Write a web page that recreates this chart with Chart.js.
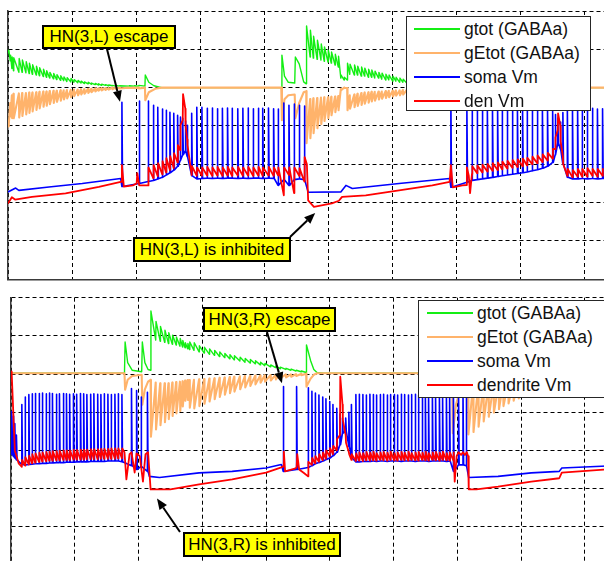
<!DOCTYPE html>
<html>
<head>
<meta charset="utf-8">
<title>HN(3) half-centre oscillator</title>
<script src="https://cdn.jsdelivr.net/npm/chart.js@4.4.1/dist/chart.umd.min.js"></script>
<style>
  html, body { margin: 0; padding: 0; background: #fff; overflow: hidden; width: 604px; height: 561px; }
  #stage { position: relative; width: 604px; height: 561px; overflow: hidden;
           font-family: "Liberation Sans", Arial, Helvetica, sans-serif; }
  canvas { position: absolute; left: 0; }
  #cL { top: 0; }
  #cR { top: 290px; }
  .legend { position: absolute; background: #fff; border: 1px solid #262626; box-sizing: border-box; }
  .legend .row { position: relative; height: 24px; }
  .legend .swatch { position: absolute; height: 0; top: 10.5px; border-top: 2.5px solid; }
  .legend .txt { position: absolute; top: 0; font-size: 17.5px; line-height: 24px; color: #111; white-space: nowrap; }
  .note { position: absolute; background: #ffff00; border: 2px solid #000; box-sizing: border-box;
          font-size: 17px; text-align: center; white-space: nowrap; color: #000; }
</style>
</head>
<body>
<div id="stage">
  <canvas id="cL" width="660" height="290"></canvas>
  <canvas id="cR" width="660" height="290"></canvas>
  <div class="legend" id="legL" style="left:406px;top:16px;width:185px;height:95px;"></div>
  <div class="legend" id="legR" style="left:418px;top:300px;width:192px;height:98px;"></div>
  <div class="note" style="left:42px;top:25px;width:134px;height:24px;line-height:20px;">HN(3,L) escape</div>
  <div class="note" style="left:133px;top:237px;width:158px;height:25px;line-height:21px;">HN(3,L) is inhibited</div>
  <div class="note" style="left:203px;top:307px;width:133px;height:25px;line-height:21px;">HN(3,R) escape</div>
  <div class="note" style="left:183px;top:532px;width:158px;height:25px;line-height:21px;">HN(3,R) is inhibited</div>
</div>
<script>
// ---------------------------------------------------------------------------
// HN(3,L) : soma spikes (time s, peak, trough) for its two bursts
// ---------------------------------------------------------------------------
const L_burstA_t = [1.78, 2.05, 2.19, 2.27, 2.34, 2.41, 2.47, 2.53, 2.59, 2.65,
  2.69, 2.73, 2.77, 2.80, 2.87, 2.95, 3.03, 3.11, 3.19, 3.27,
  3.35, 3.43, 3.50, 3.59, 3.67, 3.75, 3.83, 3.91, 3.98, 4.07,
  4.15, 4.22, 4.31, 4.39, 4.47, 4.55, 4.63];
const L_burstA_peak = [4.62, 4.65, 4.65, 4.54, 4.49, 4.44, 4.41, 4.36, 4.33, 4.28,
  4.23, 4.20, 4.13, 4.02, 4.33, 4.49, 4.49, 4.46, 4.47, 4.45,
  4.46, 4.47, 4.46, 4.45, 4.46, 4.47, 4.45, 4.46, 4.46, 4.47,
  4.45, 4.44, 4.60, 4.54, 4.57, 4.54, 4.52];
const L_burstA_trough = [2.42, 2.50, 2.55, 2.58, 2.62, 2.66, 2.72, 2.78, 2.85, 2.95,
  3.10, 3.25, 3.35, 3.20, 2.70, 2.62, 2.63, 2.64, 2.63, 2.64,
  2.63, 2.64, 2.64, 2.63, 2.64, 2.63, 2.64, 2.64, 2.63, 2.64,
  2.63, 2.45, 2.60, 2.45, 2.60, 2.62, 2.60];

const L_burstB_t = [6.92, 7.17, 7.25, 7.33, 7.41, 7.49, 7.57, 7.65, 7.72, 7.80,
  7.88, 7.96, 8.04, 8.11, 8.19, 8.27, 8.35, 8.43, 8.51, 8.55,
  8.59, 8.63, 8.67, 8.74, 8.82, 8.90, 8.97, 9.05, 9.13, 9.21, 9.29];
const L_burstB_peak = [4.65, 4.49, 4.46, 4.45, 4.46, 4.47, 4.45, 4.46, 4.46, 4.45,
  4.47, 4.46, 4.45, 4.46, 4.47, 4.45, 4.46, 4.44, 4.40, 4.30,
  4.20, 4.10, 4.35, 4.46, 4.45, 4.46, 4.47, 4.45, 4.46, 4.44, 4.45];
const L_burstB_trough = [2.40, 2.53, 2.58, 2.60, 2.62, 2.64, 2.66, 2.68, 2.70, 2.72,
  2.74, 2.76, 2.78, 2.80, 2.83, 2.86, 2.90, 2.95, 3.05, 3.25,
  3.55, 3.40, 3.00, 2.66, 2.62, 2.62, 2.63, 2.62, 2.63, 2.62, 2.63];

// HN(3,L) soma between bursts [t, v]
const L_soma_pre  = [[0, 2.28], [0.12, 2.38], [0.17, 2.32], [0.64, 2.41], [1.16, 2.50], [1.76, 2.63]];
const L_soma_mid  = [[4.69, 2.27], [5.20, 2.28], [5.28, 2.45], [5.38, 2.37], [6.11, 2.50], [6.90, 2.63]];
const L_soma_post = [[9.35, 2.63]];

// HN(3,L) dendrite: slow parts [t, v] and the value before / after each spike of a burst
const L_den_pre = [[0, 1.98], [0.06, 2.14], [0.11, 2.08], [0.375, 2.15], [0.9, 2.24], [1.42, 2.41],
  [1.76, 2.54], [1.77, 2.54], [1.78, 2.98], [1.81, 2.42], [1.95, 2.45], [2.01, 2.50], [2.02, 2.77],
  [2.05, 2.45], [2.12, 2.45]];
const L_den_A_before = [2.45, 2.64, 2.69, 2.74, 2.79, 2.85, 2.90, 3.05, 3.37, 4.15,
  4.45, 3.65, 2.72, 2.70, 2.70, 2.71, 2.70, 2.71, 2.70, 2.71,
  2.70, 2.71, 2.70, 2.71, 2.70, 2.71, 2.70, 2.71, 2.70, 2.71,
  2.19, 2.72, 2.25, 2.70, 2.55];
const L_den_A_after = [2.92, 2.98, 3.03, 3.08, 3.16, 3.21, 3.29, 3.50, 4.02, 4.83,
  4.00, 3.50, 2.95, 2.92, 2.92, 2.93, 2.92, 2.93, 2.92, 2.93,
  2.92, 2.93, 2.92, 2.93, 2.92, 2.93, 2.92, 2.93, 2.92, 2.92,
  2.92, 2.92, 2.92, 2.90, 3.19];
const L_den_mid = [[4.67, 3.00], [4.69, 2.06], [4.78, 1.89], [5.06, 1.98], [5.17, 2.05], [5.20, 2.11],
  [5.22, 2.15], [5.59, 2.19], [6.11, 2.32], [6.63, 2.45], [6.90, 2.54], [6.92, 2.98], [6.95, 2.40],
  [7.10, 2.45], [7.16, 2.46], [7.17, 2.92], [7.20, 2.70], [7.22, 2.25], [7.24, 2.60]];
const L_den_B_before = [2.75, 2.77, 2.79, 2.81, 2.83, 2.85, 2.87, 2.89, 2.91, 2.93,
  2.95, 2.97, 3.00, 3.03, 3.06, 3.10, 3.15, 3.40, 3.90, 4.00,
  3.20, 2.70, 2.66, 2.68, 2.68, 2.68, 2.70, 2.68, 2.70];
const L_den_B_after = [2.95, 2.97, 2.99, 3.01, 3.03, 3.05, 3.07, 3.09, 3.11, 3.13,
  3.15, 3.17, 3.20, 3.23, 3.26, 3.30, 3.40, 3.70, 4.33, 3.60,
  3.00, 2.88, 2.85, 2.88, 2.88, 2.90, 2.88, 2.88, 2.90];

// ---------------------------------------------------------------------------
// HN(3,R) : soma spikes for its two bursts
// ---------------------------------------------------------------------------
const R_burst1_t = [0.01, 0.035, 0.06, 0.085, 0.17, 0.22, 0.28, 0.33, 0.38, 0.44,
  0.49, 0.55, 0.60, 0.65, 0.71, 0.76, 0.82, 0.87, 0.92, 0.98,
  1.03, 1.09, 1.14, 1.19, 1.25, 1.30, 1.36, 1.41, 1.46, 1.52,
  1.57, 1.63, 1.68, 1.74, 1.89, 1.97, 2.04, 2.14];
const R_burst1_peak = [4.02, 3.90, 3.70, 3.40, 4.20, 4.40, 4.46, 4.48, 4.49, 4.49,
  4.50, 4.48, 4.50, 4.49, 4.47, 4.48, 4.49, 4.48, 4.47, 4.48,
  4.47, 4.49, 4.48, 4.46, 4.47, 4.48, 4.47, 4.46, 4.48, 4.47,
  4.46, 4.47, 4.48, 4.46, 4.62, 4.57, 4.40, 4.52];
const R_burst1_trough = [2.90, 2.85, 2.80, 2.75, 2.63, 2.62, 2.63, 2.64, 2.65, 2.65,
  2.66, 2.66, 2.67, 2.67, 2.68, 2.68, 2.68, 2.69, 2.69, 2.69,
  2.70, 2.70, 2.70, 2.70, 2.71, 2.71, 2.71, 2.71, 2.71, 2.72,
  2.72, 2.72, 2.72, 2.70, 2.60, 2.50, 2.58, 2.45];

const R_burst2_t = [4.27, 4.48, 4.66, 4.72, 4.77, 4.83, 4.89, 4.94, 5.00, 5.05,
  5.11, 5.16, 5.20, 5.25, 5.30, 5.34, 5.41, 5.46, 5.52, 5.57,
  5.63, 5.68, 5.73, 5.79, 5.84, 5.90, 5.95, 6.01, 6.06, 6.12,
  6.17, 6.23, 6.28, 6.34, 6.39, 6.45, 6.50, 6.55, 6.61, 6.66,
  6.72, 6.77, 6.83, 6.88, 6.94, 7.02, 7.09, 7.14];
const R_burst2_peak = [4.67, 4.67, 4.64, 4.55, 4.50, 4.45, 4.40, 4.35, 4.28, 4.20,
  4.10, 3.95, 3.85, 3.85, 4.00, 4.20, 4.46, 4.47, 4.46, 4.45,
  4.47, 4.46, 4.45, 4.46, 4.47, 4.45, 4.46, 4.46, 4.45, 4.47,
  4.46, 4.45, 4.46, 4.47, 4.45, 4.46, 4.46, 4.45, 4.47, 4.46,
  4.45, 4.46, 4.47, 4.46, 4.45, 4.62, 4.60, 4.50];
const R_burst2_trough = [2.45, 2.50, 2.55, 2.60, 2.65, 2.68, 2.72, 2.76, 2.80, 2.86,
  2.95, 3.15, 3.45, 3.50, 3.10, 2.80, 2.70, 2.70, 2.71, 2.71,
  2.71, 2.72, 2.71, 2.72, 2.72, 2.71, 2.72, 2.72, 2.72, 2.71,
  2.72, 2.72, 2.72, 2.71, 2.72, 2.72, 2.72, 2.71, 2.72, 2.72,
  2.72, 2.72, 2.71, 2.72, 2.45, 2.62, 2.62, 2.60];

const R_soma_pre   = [[0, 3.50]];
const R_soma_rest1 = [[2.17, 2.32], [2.33, 2.29], [2.95, 2.41], [3.47, 2.45], [4.00, 2.54], [4.24, 2.63]];
const R_soma_rest2 = [[7.18, 2.29], [7.64, 2.32], [8.16, 2.41], [8.60, 2.45], [8.64, 2.54], [9.35, 2.59]];

const R_den_pre = [[0, 5.07], [0.01, 5.05], [0.06, 3.00], [0.12, 2.66]];
const R_den_1_before = [2.57, 2.60, 2.63, 2.66, 2.68, 2.70, 2.71, 2.72, 2.73, 2.73,
  2.74, 2.74, 2.75, 2.75, 2.75, 2.76, 2.76, 2.76, 2.76, 2.77,
  2.77, 2.77, 2.77, 2.78, 2.78, 2.78, 2.78, 2.78, 2.79, 2.79];
const R_den_1_after = [2.75, 2.82, 2.86, 2.90, 2.92, 2.94, 2.95, 2.96, 2.97, 2.98,
  2.98, 2.99, 3.00, 3.00, 3.00, 3.01, 3.01, 3.02, 3.02, 3.02,
  3.03, 3.03, 3.03, 3.04, 3.04, 3.04, 3.05, 3.05, 3.05, 3.05];
const R_den_mid = [[1.78, 2.95], [1.81, 2.24], [1.86, 2.90], [1.89, 2.95], [1.94, 2.42], [1.97, 2.92],
  [2.02, 2.85], [2.07, 2.18], [2.11, 2.90], [2.15, 2.95], [2.19, 1.98], [2.50, 1.98], [2.95, 2.11],
  [3.47, 2.24], [4.00, 2.42], [4.23, 2.55], [4.27, 2.58], [4.28, 2.97], [4.30, 2.45], [4.45, 2.52],
  [4.48, 2.55], [4.49, 2.90], [4.52, 2.50], [4.60, 2.40]];
const R_den_2_before = [2.32, 2.62, 2.66, 2.70, 2.74, 2.78, 2.84, 2.90, 3.00, 3.40,
  4.20, 3.40, 2.95, 2.75,
  2.72, 2.73, 2.72, 2.74, 2.73, 2.74, 2.73, 2.75, 2.74, 2.73,
  2.75, 2.74, 2.73, 2.75, 2.74, 2.73, 2.75, 2.74, 2.73, 2.75,
  2.74, 2.73, 2.75, 2.74, 2.73, 2.75, 2.74, 2.73, 2.74];
const R_den_2_after = [2.70, 2.80, 2.85, 2.90, 2.95, 3.00, 3.06, 3.12, 3.30, 4.93,
  3.80, 3.20, 2.90, 2.90,
  2.92, 2.95, 2.93, 2.96, 2.94, 2.97, 2.93, 2.95, 2.96, 2.94,
  2.97, 2.93, 2.95, 2.96, 2.94, 2.97, 2.93, 2.95, 2.96, 2.94,
  2.97, 2.93, 2.95, 2.96, 2.94, 2.97, 2.93, 2.95, 2.95];
const R_den_post = [[6.96, 2.18], [6.99, 2.85], [7.02, 2.95], [7.06, 2.88], [7.09, 2.95], [7.12, 2.88],
  [7.15, 2.95], [7.17, 2.85], [7.18, 1.98], [7.30, 1.98], [7.64, 2.05], [8.16, 2.18], [8.60, 2.27],
  [8.64, 2.42], [9.35, 2.50]];

// ---------------------------------------------------------------------------
// Synaptic conductances: each cell is driven by the other cell's spikes.
// Value just before and just after every presynaptic spike.
// ---------------------------------------------------------------------------
// HN(3,L) gtot, driven by HN(3,R) bursts
const L_gtot_pre = [[0, 5.98]];
const L_gtot_1_before = [5.90, 5.70, 5.50, 5.44, 5.40, 5.40, 5.39, 5.37, 5.35, 5.33,
  5.31, 5.29, 5.27, 5.25, 5.23, 5.21, 5.19, 5.18, 5.16, 5.15,
  5.14, 5.13, 5.12, 5.11, 5.10, 5.09, 5.08, 5.07, 5.06, 5.06,
  5.05, 5.05, 5.04, 5.04, 5.04, 5.04, 5.04, 5.04];
const L_gtot_1_after = [5.98, 5.85, 5.80, 5.78, 5.76, 5.72, 5.68, 5.64, 5.60, 5.56,
  5.52, 5.48, 5.44, 5.40, 5.37, 5.34, 5.31, 5.28, 5.26, 5.24,
  5.21, 5.19, 5.17, 5.15, 5.14, 5.12, 5.11, 5.10, 5.09, 5.08,
  5.07, 5.06, 5.06, 5.05, 5.05, 5.05, 5.06, 5.33];
const L_gtot_mid = [[2.20, 5.14], [2.28, 5.05], [2.40, 5.00], [4.27, 5.00], [4.28, 5.85], [4.32, 5.30],
  [4.38, 5.14], [4.48, 5.12], [4.49, 5.80], [4.55, 5.62], [4.62, 5.15]];
const L_gtot_2_before = [5.10, 5.80, 5.77, 5.74, 5.72, 5.69, 5.67, 5.64, 5.59, 5.54,
  5.25, 5.20, 5.20, 5.35, 5.33, 5.33, 5.30, 5.30, 5.27, 5.27,
  5.25, 5.25, 5.22, 5.20, 5.20, 5.17, 5.17, 5.14, 5.14, 5.12,
  5.12, 5.11, 5.10, 5.10, 5.09, 5.08, 5.08, 5.07, 5.07, 5.06,
  5.06, 5.05, 5.05, 5.04, 5.04, 5.04];
const L_gtot_2_after = [6.61, 6.50, 6.34, 6.24, 6.14, 6.06, 5.98, 5.93, 5.87, 5.82,
  5.33, 5.27, 5.64, 5.61, 5.59, 5.56, 5.54, 5.51, 5.48, 5.46,
  5.43, 5.40, 5.38, 5.35, 5.33, 5.30, 5.27, 5.25, 5.22, 5.20,
  5.19, 5.18, 5.17, 5.16, 5.15, 5.14, 5.13, 5.12, 5.11, 5.10,
  5.09, 5.08, 5.08, 5.07, 5.07, 5.06];
const L_gtot_post = [[7.25, 5.02], [7.35, 5.00], [9.35, 5.00]];

// HN(3,L) gEtot
const L_gE_pre = [[0, 3.99]];
const L_gE_1_before = [4.10, 4.60, 4.80, 4.84, 4.85, 4.86, 4.86, 4.87, 4.87, 4.88,
  4.89, 4.90, 4.90, 4.91, 4.92, 4.92, 4.93, 4.93, 4.94, 4.94,
  4.95, 4.95, 4.96, 4.96, 4.97, 4.97, 4.98, 4.98, 4.99, 4.99,
  4.99, 5.00, 5.00, 5.00, 5.00, 5.00, 5.00, 5.00];
const L_gE_1_after = [4.05, 4.25, 4.20, 4.20, 4.22, 4.26, 4.30, 4.34, 4.38, 4.42,
  4.46, 4.50, 4.53, 4.57, 4.60, 4.63, 4.66, 4.69, 4.72, 4.75,
  4.78, 4.80, 4.82, 4.84, 4.86, 4.88, 4.90, 4.92, 4.93, 4.94,
  4.95, 4.96, 4.97, 4.98, 4.99, 4.99, 4.98, 4.67];
const L_gE_mid = [[2.20, 4.88], [2.30, 4.97], [2.40, 5.00], [4.27, 5.00], [4.28, 4.15], [4.32, 4.70],
  [4.38, 4.80], [4.48, 4.82], [4.49, 4.20], [4.55, 4.60], [4.62, 4.88]];
const L_gE_2_before = [4.91, 4.70, 4.72, 4.73, 4.74, 4.75, 4.75, 4.76, 4.77, 4.78,
  4.97, 5.00, 4.99, 4.80, 4.82, 4.84, 4.86, 4.87, 4.88, 4.89,
  4.89, 4.90, 4.90, 4.91, 4.92, 4.92, 4.93, 4.93, 4.94, 4.94,
  4.95, 4.95, 4.95, 4.96, 4.96, 4.96, 4.97, 4.97, 4.97, 4.98,
  4.98, 4.98, 4.98, 4.99, 4.99, 4.99];
const L_gE_2_after = [3.55, 3.68, 3.81, 3.94, 4.05, 4.13, 4.20, 4.28, 4.36, 4.41,
  4.93, 4.99, 4.41, 4.45, 4.49, 4.52, 4.55, 4.58, 4.61, 4.64,
  4.66, 4.69, 4.71, 4.73, 4.75, 4.77, 4.79, 4.80, 4.82, 4.83,
  4.85, 4.86, 4.87, 4.88, 4.89, 4.90, 4.91, 4.92, 4.93, 4.93,
  4.94, 4.95, 4.95, 4.96, 4.96, 4.97];
const L_gE_post = [[7.25, 5.00], [9.35, 5.00]];

// HN(3,R) gtot, driven by HN(3,L) bursts
const R_gtot_pre = [[0, 5.02], [1.78, 5.02], [1.79, 5.84], [1.83, 5.30], [1.90, 5.10], [2.05, 5.06],
  [2.06, 5.84], [2.10, 5.30], [2.15, 5.12]];
const R_gtot_A_before = [5.10, 5.89, 5.86, 5.83, 5.80, 5.78, 5.76, 5.73, 5.71, 5.69,
  5.66, 5.64, 5.62, 5.58, 5.55, 5.52, 5.49, 5.46, 5.43, 5.40,
  5.37, 5.34, 5.31, 5.29, 5.27, 5.24, 5.22, 5.19, 5.17, 5.14,
  5.12, 5.10, 5.08, 5.06, 5.04];
const R_gtot_A_after = [6.65, 6.38, 6.25, 6.15, 6.08, 6.02, 5.97, 5.93, 5.88, 5.82,
  5.80, 5.84, 5.82, 5.74, 5.70, 5.66, 5.62, 5.58, 5.54, 5.51,
  5.48, 5.44, 5.41, 5.38, 5.35, 5.31, 5.28, 5.24, 5.21, 5.18,
  5.15, 5.13, 5.10, 5.08, 5.76];
const R_gtot_mid = [[4.70, 5.35], [4.75, 5.12], [4.80, 5.04], [4.90, 5.02], [6.92, 5.02], [6.93, 6.40],
  [6.98, 5.70], [7.05, 5.30], [7.16, 5.10]];
const R_gtot_B_before = [5.10, 5.90, 5.87, 5.84, 5.81, 5.78, 5.75, 5.72, 5.69, 5.66,
  5.63, 5.60, 5.57, 5.54, 5.51, 5.48, 5.46, 5.44, 5.42, 5.40,
  5.38, 5.36, 5.36, 5.35, 5.34, 5.33, 5.32, 5.31, 5.30, 5.29];
const R_gtot_B_after = [6.60, 6.40, 6.28, 6.18, 6.10, 6.03, 5.97, 5.92, 5.87, 5.83,
  5.79, 5.75, 5.71, 5.67, 5.64, 5.61, 5.58, 5.55, 5.50, 5.44,
  5.42, 5.48, 5.50, 5.48, 5.46, 5.44, 5.42, 5.40, 5.38, 5.37];

// HN(3,R) gEtot
const R_gE_pre = [[0, 5.02], [1.78, 5.02], [1.79, 4.59], [1.83, 4.85], [1.90, 4.95], [2.05, 4.98],
  [2.06, 4.20], [2.10, 4.60], [2.15, 4.80]];
const R_gE_A_before = [4.85, 4.78, 4.76, 4.76, 4.76, 4.78, 4.79, 4.80, 4.81, 4.83,
  4.84, 4.84, 4.85, 4.86, 4.87, 4.88, 4.89, 4.90, 4.91, 4.92,
  4.93, 4.94, 4.95, 4.95, 4.96, 4.96, 4.97, 4.97, 4.98, 4.98,
  4.99, 4.99, 5.00, 5.00, 5.01];
const R_gE_A_after = [3.36, 3.55, 3.66, 3.74, 3.82, 3.90, 3.97, 4.03, 4.15, 4.30,
  4.32, 4.12, 4.10, 4.16, 4.22, 4.28, 4.34, 4.40, 4.46, 4.50,
  4.54, 4.60, 4.65, 4.69, 4.73, 4.77, 4.80, 4.83, 4.86, 4.89,
  4.91, 4.93, 4.95, 4.97, 4.67];
const R_gE_mid = [[4.70, 4.88], [4.75, 4.98], [4.80, 5.02], [6.92, 5.02], [6.93, 3.45], [6.98, 4.20],
  [7.05, 4.60], [7.16, 4.80]];
const R_gE_B_before = [4.80, 4.75, 4.72, 4.72, 4.73, 4.74, 4.75, 4.77, 4.78, 4.80,
  4.81, 4.83, 4.84, 4.85, 4.86, 4.87, 4.88, 4.89, 4.90, 4.92,
  4.94, 4.94, 4.92, 4.92, 4.93, 4.93, 4.94, 4.94, 4.95, 4.95];
const R_gE_B_after = [3.42, 3.48, 3.62, 3.76, 3.88, 3.99, 4.08, 4.16, 4.23, 4.30,
  4.36, 4.41, 4.46, 4.50, 4.54, 4.58, 4.61, 4.64, 4.75, 4.85,
  4.88, 4.70, 4.66, 4.69, 4.72, 4.74, 4.76, 4.78, 4.80, 4.82];

// ---------------------------------------------------------------------------
// trace builders
// ---------------------------------------------------------------------------
const SPIKE_W = 0.01;   // time taken by one spike / conductance step (s)

function same(name, a, b, c) {
  if (a.length !== b.length || (c && a.length !== c.length))
    throw new Error('length mismatch in ' + name + ': ' + a.length + '/' + b.length + (c ? '/' + c.length : ''));
}
function line(pairs) { return pairs.map(([x, y]) => ({ x, y })); }
function spikes(name, t, peak, trough) {
  same(name, t, peak, trough);
  const out = [];
  t.forEach((ti, i) => {
    out.push({ x: ti, y: trough[i] }, { x: ti, y: peak[i] }, { x: ti + SPIKE_W, y: trough[i] });
  });
  return out;
}
function steps(name, t, before, after) {
  same(name, t, before, after);
  const out = [];
  t.forEach((ti, i) => {
    out.push({ x: ti, y: before[i] }, { x: ti + SPIKE_W * 0.5, y: after[i] });
  });
  return out;
}

const L_soma = [...line(L_soma_pre), ...spikes('LA', L_burstA_t, L_burstA_peak, L_burstA_trough),
  ...line(L_soma_mid), ...spikes('LB', L_burstB_t, L_burstB_peak, L_burstB_trough), ...line(L_soma_post)];
const L_den = [...line(L_den_pre), ...steps('LdA', L_burstA_t.slice(2), L_den_A_before, L_den_A_after),
  ...line(L_den_mid), ...steps('LdB', L_burstB_t.slice(2), L_den_B_before, L_den_B_after)];
const L_gtot = [...line(L_gtot_pre), ...steps('Lg1', R_burst1_t, L_gtot_1_before, L_gtot_1_after),
  ...line(L_gtot_mid), ...steps('Lg2', R_burst2_t.slice(2), L_gtot_2_before, L_gtot_2_after), ...line(L_gtot_post)];
const L_gE = [...line(L_gE_pre), ...steps('Le1', R_burst1_t, L_gE_1_before, L_gE_1_after),
  ...line(L_gE_mid), ...steps('Le2', R_burst2_t.slice(2), L_gE_2_before, L_gE_2_after), ...line(L_gE_post)];

const R_soma = [...line(R_soma_pre), ...spikes('R1', R_burst1_t, R_burst1_peak, R_burst1_trough),
  ...line(R_soma_rest1), ...spikes('R2', R_burst2_t, R_burst2_peak, R_burst2_trough), ...line(R_soma_rest2)];
const R_den = [...line(R_den_pre), ...steps('Rd1', R_burst1_t.slice(4, 34), R_den_1_before, R_den_1_after),
  ...line(R_den_mid), ...steps('Rd2', R_burst2_t.slice(2, 45), R_den_2_before, R_den_2_after), ...line(R_den_post)];
const R_gtot = [...line(R_gtot_pre), ...steps('RgA', L_burstA_t.slice(2), R_gtot_A_before, R_gtot_A_after),
  ...line(R_gtot_mid), ...steps('RgB', L_burstB_t.slice(1), R_gtot_B_before, R_gtot_B_after)];
const R_gE = [...line(R_gE_pre), ...steps('ReA', L_burstA_t.slice(2), R_gE_A_before, R_gE_A_after),
  ...line(R_gE_mid), ...steps('ReB', L_burstB_t.slice(1), R_gE_B_before, R_gE_B_after)];

// ---------------------------------------------------------------------------
// chart setup
// ---------------------------------------------------------------------------
const COLORS = { gtot: '#14ee14', gE: '#ffb36b', soma: '#0000ff', den: '#ff0000' };

function datasets(gtot, gE, soma, den, denLabel) {
  const base = { borderWidth: 1.8, pointRadius: 0, fill: false, tension: 0,
                 borderJoinStyle: 'round', borderCapStyle: 'butt' };
  return [
    { ...base, label: 'gtot (GABAa)',  data: gtot, borderColor: COLORS.gtot, order: 3, borderWidth: 1.4 },
    { ...base, label: 'gEtot (GABAa)', data: gE,   borderColor: COLORS.gE,   order: 2, borderWidth: 2.1 },
    { ...base, label: 'soma Vm',       data: soma, borderColor: COLORS.soma, order: 1, borderWidth: 1.6 },
    { ...base, label: denLabel,        data: den,  borderColor: COLORS.den,  order: 0 }
  ];
}

function axis(max) {
  return {
    type: 'linear', min: 0, max: max,
    ticks: { display: false, stepSize: 1 },
    grid: { color: '#000', lineWidth: 1, drawTicks: false },
    border: { display: true, color: '#3a3a3a', width: 1.5, dash: [4, 3] }
  };
}

// arrows pointing from a label box (page px) to a spot on the traces (data units)
const arrowSpecs = {
  cL: { top: 0, arrows: [ { from: [107, 49], to: [1.75, 4.63] },
                          { from: [290, 237], to: [4.80, 1.73] } ] },
  cR: { top: 290, arrows: [ { from: [267, 332], to: [4.25, 4.76] },
                            { from: [180, 532], to: [2.29, 1.74] } ] }
};
const arrowPlugin = {
  id: 'noteArrows',
  afterDraw(chart) {
    const spec = arrowSpecs[chart.canvas.id];
    if (!spec) return;
    const { ctx, scales: { x, y } } = chart;
    ctx.save();
    ctx.strokeStyle = '#000';
    ctx.fillStyle = '#000';
    ctx.lineWidth = 2;
    spec.arrows.forEach(a => {
      const x1 = a.from[0], y1 = a.from[1] - spec.top;
      const x2 = x.getPixelForValue(a.to[0]), y2 = y.getPixelForValue(a.to[1]);
      const ang = Math.atan2(y2 - y1, x2 - x1);
      const L = 11, Hw = 4.5;
      const bx = x2 - L * Math.cos(ang), by = y2 - L * Math.sin(ang);
      ctx.beginPath(); ctx.moveTo(x1, y1); ctx.lineTo(bx, by); ctx.stroke();
      ctx.beginPath();
      ctx.moveTo(x2, y2);
      ctx.lineTo(bx + Hw * Math.sin(ang), by - Hw * Math.cos(ang));
      ctx.lineTo(bx - Hw * Math.sin(ang), by + Hw * Math.cos(ang));
      ctx.closePath(); ctx.fill();
    });
    ctx.restore();
  }
};

function makeChart(id, ds, padding) {
  return new Chart(document.getElementById(id), {
    type: 'line',
    data: { datasets: ds },
    options: {
      responsive: false, animation: false, devicePixelRatio: 1,
      parsing: false, normalized: true,
      layout: { padding },
      plugins: { legend: { display: false }, tooltip: { enabled: false } },
      scales: { x: axis(10), y: axis(7) }
    },
    plugins: [arrowPlugin]
  });
}

// legend boxes filled from the chart's own datasets
function htmlLegend(chart, el, sw, tx, offset) {
  el.style.paddingTop = offset + 'px';
  chart.data.datasets.forEach(ds => {
    const row = document.createElement('div'); row.className = 'row';
    const s = document.createElement('div'); s.className = 'swatch';
    s.style.left = sw[0] + 'px'; s.style.width = sw[1] + 'px'; s.style.borderTopColor = ds.borderColor;
    const t = document.createElement('div'); t.className = 'txt';
    t.style.left = tx + 'px'; t.textContent = ds.label;
    row.append(s, t); el.appendChild(row);
  });
}

const chartL = makeChart('cL', datasets(L_gtot, L_gE, L_soma, L_den, 'den Vm'),
                         { left: 8, right: 12, top: 11, bottom: 10.7 });
const chartR = makeChart('cR', datasets(R_gtot, R_gE, R_soma, R_den, 'dendrite Vm'),
                         { left: 11, right: 11.5, top: 7.7, bottom: 15.1 });
htmlLegend(chartL, document.getElementById('legL'), [7, 46], 57, 0);
htmlLegend(chartR, document.getElementById('legR'), [8, 46], 58, 0);
</script>
</body>
</html>
